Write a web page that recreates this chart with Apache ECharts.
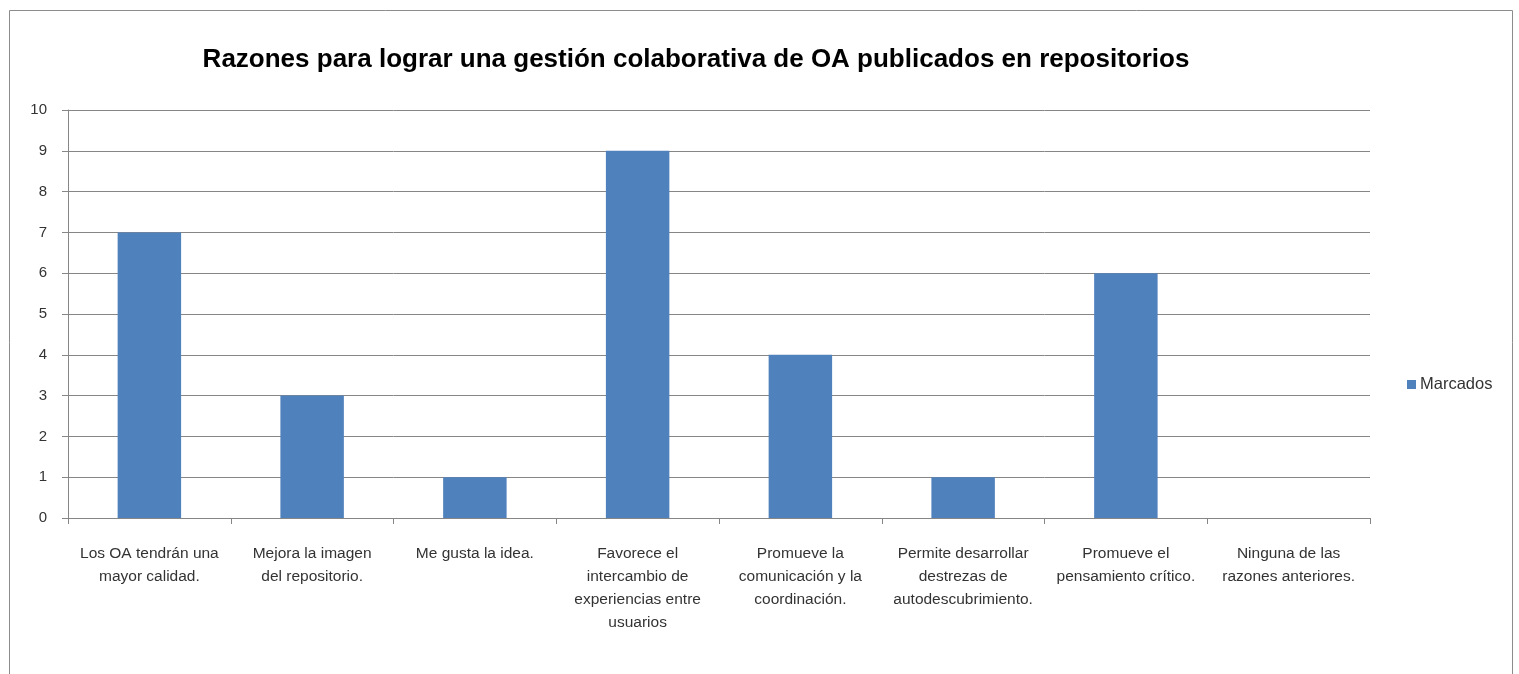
<!DOCTYPE html>
<html><head><meta charset="utf-8">
<script src="https://cdn.jsdelivr.net/npm/echarts@6/dist/echarts.min.js"></script>
<style>html,body{margin:0;padding:0;background:#fff}#c{width:1519px;height:674px}</style>
</head><body><div id="c"></div>
<script>
const titleText = 'Razones para lograr una gestión colaborativa de OA publicados en repositorios';
const categories = [
  'Los OA tendrán una\nmayor calidad.',
  'Mejora la imagen\ndel repositorio.',
  'Me gusta la idea.',
  'Favorece el\nintercambio de\nexperiencias entre\nusuarios',
  'Promueve la\ncomunicación y la\ncoordinación.',
  'Permite desarrollar\ndestrezas de\nautodescubrimiento.',
  'Promueve el\npensamiento crítico.',
  'Ninguna de las\nrazones anteriores.'
];
const seriesName = 'Marcados';
const values = [7, 3, 1, 9, 4, 1, 6, 0];
const chart = echarts.init(document.getElementById('c'), null, {renderer:'canvas'});
const font = 'Liberation Sans';
chart.setOption({
  animation: false,
  backgroundColor: '#fff',
  title: {text: titleText, left: 691, top: 42, textAlign: 'center',
    textStyle: {fontFamily: font, fontSize: 26, fontWeight: 'bold', color: '#000'}},
  legend: {data: [seriesName], orient: 'vertical', left: 1402, top: 371, itemWidth: 9, itemHeight: 9, itemGap: 5,
    icon: 'rect', textStyle: {fontFamily: font, fontSize: 16.5, color: '#333', padding: [0,0,0,-1]}},
  graphic: [{type: 'rect', shape: {x: 9.5, y: 10.5, width: 1503, height: 700}, style: {fill: null, stroke: '#8c8c8c', lineWidth: 1}, silent: true}],
  grid: {left: 68, top: 110, right: 149, bottom: 156},
  xAxis: {type: 'category', data: categories,
    axisLine: {lineStyle: {color: '#868686'}},
    axisTick: {show: true, length: 6, alignWithLabel: false, lineStyle: {color: '#868686'}},
    axisLabel: {interval: 0, margin: 24, lineHeight: 23, color: '#333', fontFamily: font, fontSize: 15.5}},
  yAxis: {type: 'value', min: 0, max: 10, interval: 1,
    axisLine: {show: true, lineStyle: {color: '#868686'}},
    axisTick: {show: true, length: 6, lineStyle: {color: '#868686'}},
    splitLine: {lineStyle: {color: '#868686'}},
    axisLabel: {margin: 21, color: '#333', fontFamily: font, fontSize: 15}},
  series: [{name: seriesName, type: 'bar', data: values, barWidth: '39%',
    itemStyle: {color: '#4f81bd'}}]
});
</script></body></html>
